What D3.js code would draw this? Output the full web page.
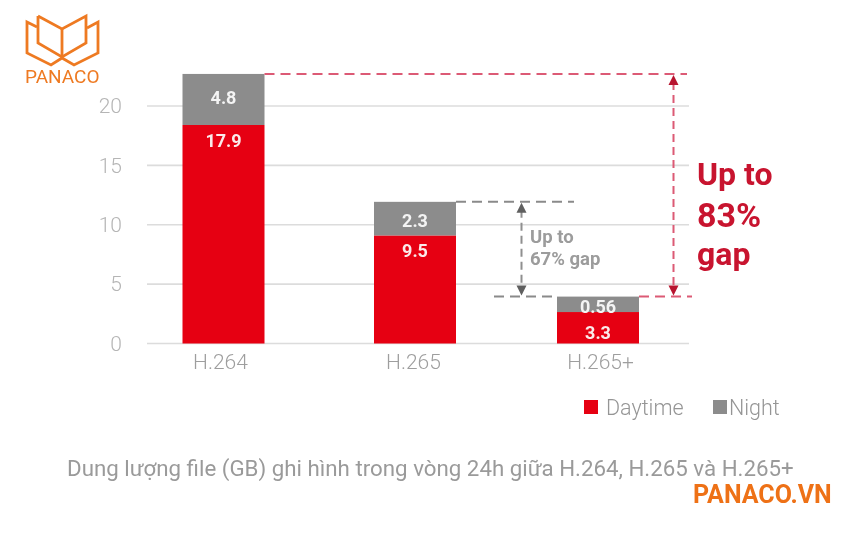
<!DOCTYPE html>
<html><head><meta charset="utf-8">
<script src="https://cdn.jsdelivr.net/npm/d3@7"></script>
<style>
html,body{margin:0;padding:0;background:#fff}
svg{display:block;filter:blur(0.5px)}
text{font-family:Roboto,sans-serif}
</style></head><body>
<svg id="c" width="850" height="533"></svg>
<script>
const categories = ["H.264","H.265","H.265+"];
// bar segment heights as drawn in the picture
const daytimeDrawn = [18.4, 9.1, 2.65];
const nightDrawn = [4.3, 2.83, 1.3];
// value labels as printed on the bars
const daytimeLabels = ["17.9","9.5","3.3"];
const nightLabels = ["4.8","2.3","0.56"];
const yTicks = [0,5,10,15,20];
const seriesNames = ["Daytime","Night"];
const redNote = ["Up to","83%","gap"];
const greyNote = ["Up to","67% gap"];
const caption = "Dung lượng file (GB) ghi hình trong vòng 24h giữa H.264, H.265 và H.265+";

const RED="#e60012", GREY="#8c8c8c", ORANGE="#ee7a22", DRED="#c8142f";
const svg=d3.select("#c");
const y=d3.scaleLinear().domain([0,20]).range([343.5,106]);
const x=d3.scaleOrdinal().domain(categories).range([223.5,415,598]);
const labelX=d3.scaleOrdinal().domain(categories).range([220,413,600]);
const barW=82, gridL=147, gridR=689;

// grid
svg.append("g").selectAll("line").data(yTicks).join("line")
  .attr("x1",gridL).attr("x2",gridR).attr("y1",d=>y(d)).attr("y2",d=>y(d))
  .attr("stroke","#dcdcdc").attr("stroke-width",1.6);
// y axis
svg.append("g").attr("transform","translate(122,0)")
  .call(d3.axisLeft(y).tickValues(yTicks).tickSize(0).tickPadding(0))
  .call(g=>g.select(".domain").remove())
  .selectAll("text").attr("font-size",21).attr("font-weight",300).attr("fill","#b5b5b5").style("font-family","Roboto");
// x axis
svg.append("g").attr("transform","translate(0,354)")
  .call(d3.axisBottom(labelX).tickSize(0).tickPadding(0))
  .call(g=>g.select(".domain").remove())
  .selectAll("text").attr("font-size",21).attr("font-weight",300).attr("fill","#9e9e9e").style("font-family","Roboto");

// bars
const stack=categories.map((c,i)=>({c,d:daytimeDrawn[i],n:nightDrawn[i],dl:daytimeLabels[i],nl:nightLabels[i]}));
const bars=svg.append("g").selectAll("g").data(stack).join("g");
bars.append("rect").attr("x",s=>x(s.c)-barW/2).attr("width",barW)
  .attr("y",s=>y(s.d)).attr("height",s=>y(0)-y(s.d)).attr("fill",RED);
bars.append("rect").attr("x",s=>x(s.c)-barW/2).attr("width",barW)
  .attr("y",s=>y(s.d+s.n)).attr("height",s=>y(s.d)-y(s.d+s.n)).attr("fill",GREY);
bars.append("text").text(s=>s.nl).attr("x",s=>x(s.c)).attr("text-anchor","middle")
  .attr("y",(s,i)=>[103.5,226.5,312.5][i])
  .attr("font-size",18).attr("font-weight",700).attr("fill","#f4f4f4");
bars.append("text").text(s=>s.dl).attr("x",s=>x(s.c)).attr("text-anchor","middle")
  .attr("y",(s,i)=>i===2?y(0)-5:y(s.d)+22)
  .attr("font-size",18).attr("font-weight",700).attr("fill","#fbeaea");

// annotations, tied to the drawn totals
const tot=stack.map(s=>s.d+s.n);
const dash=(g,x1,x2,yy,col,da)=>g.append("line").attr("x1",x1).attr("x2",x2).attr("y1",yy).attr("y2",yy)
  .attr("stroke",col).attr("stroke-width",2).attr("stroke-dasharray",da);
const ann=svg.append("g");
const PINK="#dc5a75", DG="#8a8a8a";
dash(ann,x(categories[0])+barW/2,687,y(tot[0]),PINK,"10 6");
dash(ann,x(categories[2])+barW/2,692,y(tot[2]),PINK,"10 6");
dash(ann,x(categories[1])+barW/2,574,y(tot[1]),DG,"10 6");
dash(ann,494,x(categories[2])-barW/2,y(tot[2]),DG,"10 6");
function vArrow(xx,y1,y2,lineCol,headCol){
  ann.append("line").attr("x1",xx).attr("x2",xx).attr("y1",y1+8).attr("y2",y2-8)
    .attr("stroke",lineCol).attr("stroke-width",2).attr("stroke-dasharray","8 5");
  ann.append("path").attr("fill",headCol).attr("d",d3.line()([[xx,y1+1],[xx-5,y1+11],[xx+5,y1+11]])+"Z");
  ann.append("path").attr("fill",headCol).attr("d",d3.line()([[xx,y2-1],[xx-5,y2-11],[xx+5,y2-11]])+"Z");
}
vArrow(673.5,y(tot[0]),y(tot[2]),PINK,"#b8142f");
vArrow(521.5,y(tot[1]),y(tot[2]),"#8f8f8f","#5f5f5f");

svg.append("g").selectAll("text").data(redNote).join("text").text(d=>d)
  .attr("x",697).attr("y",(d,i)=>[185,227,265][i])
  .attr("font-size",(d,i)=>i===1?34:32).attr("font-weight",700).attr("fill",DRED);
svg.append("g").selectAll("text").data(greyNote).join("text").text(d=>d)
  .attr("x",530).attr("y",(d,i)=>[243,265][i])
  .attr("font-size",18.5).attr("font-weight",700).attr("fill","#9c9c9c");

// legend
const leg=svg.append("g");
const legX=[584,713], legTx=[606,729], legC=[RED,GREY];
seriesNames.forEach((n,i)=>{
  leg.append("rect").attr("x",legX[i]).attr("y",400).attr("width",14).attr("height",14).attr("fill",legC[i]);
  leg.append("text").text(n).attr("x",legTx[i]).attr("y",415).attr("font-size",21.5).attr("font-weight",300).attr("fill","#959595");
});

// caption and branding
svg.append("text").text(caption).attr("x",67).attr("y",476)
  .attr("font-size",22.3).attr("font-weight",400).attr("fill","#9a9a9a");
svg.append("text").text("PANACO.VN").attr("x",693).attr("y",503)
  .attr("font-size",25).attr("font-weight",700).attr("fill","#ee7116");
svg.append("text").text("PANACO").attr("x",25).attr("y",83)
  .attr("font-size",19).attr("font-weight",400).attr("fill",ORANGE);
const logo=svg.append("g").attr("fill","none").attr("stroke",ORANGE).attr("stroke-width",2.8).attr("stroke-linejoin","miter");
[[[38,16],[62,29],[86,16],[86,43],[62,57],[38,43],[38,16]],
 [[62,29],[62,57]],
 [[37,27],[27,22],[27,53],[51,65],[62,58],[74,65],[98,53],[98,22],[87,28]]]
 .forEach(p=>logo.append("path").attr("d",d3.line()(p)));
</script></body></html>
